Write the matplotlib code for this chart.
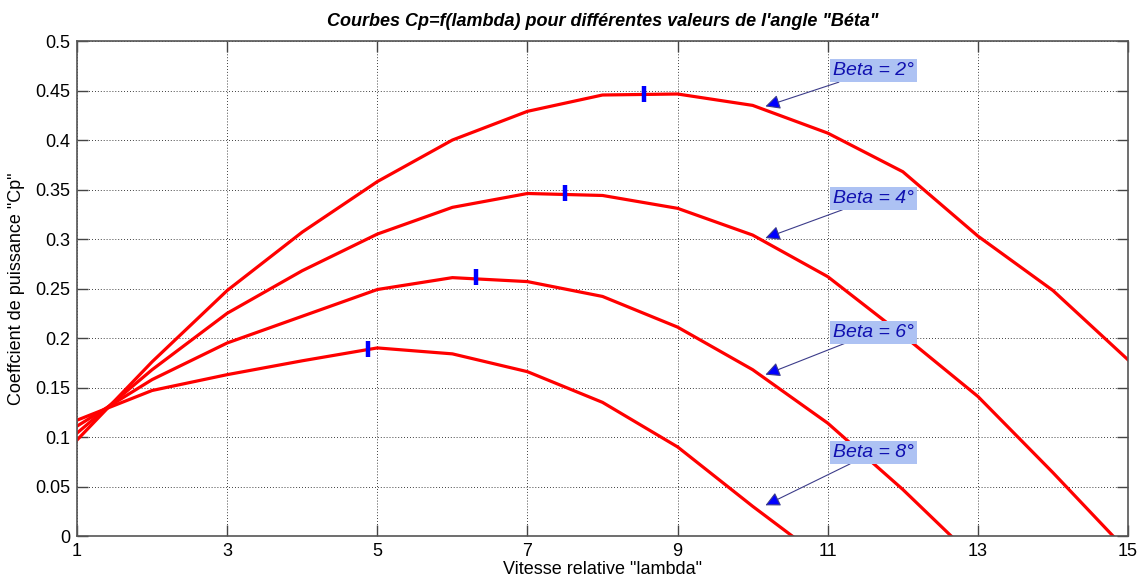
"""
Courbes Cp = f(lambda) pour plusieurs angles de calage Beta.
Valeurs relevées sur la figure d'origine (pas de 1 en lambda).
"""

import matplotlib
matplotlib.use("Agg")
import matplotlib.pyplot as plt

plt.rcParams["font.family"] = ["Liberation Sans", "DejaVu Sans"]

# --- données ---------------------------------------------------------------
lambda_b2 = [1, 2, 3, 4, 5, 6, 7, 8, 9, 10, 11, 12, 13, 14, 15]
cp_b2 = [0.097, 0.176, 0.248, 0.307, 0.358, 0.400, 0.429, 0.4455, 0.4465,
         0.435, 0.407, 0.368, 0.303, 0.248, 0.178]

lambda_b4 = [1, 2, 3, 4, 5, 6, 7, 8, 9, 10, 11, 12, 13, 14, 15]
cp_b4 = [0.104, 0.168, 0.225, 0.268, 0.305, 0.332, 0.346, 0.344, 0.331,
         0.304, 0.262, 0.203, 0.141, 0.064, -0.016]

lambda_b6 = [1, 2, 3, 4, 5, 6, 7, 8, 9, 10, 11, 12, 13]
cp_b6 = [0.111, 0.158, 0.195, 0.222, 0.249, 0.261, 0.257, 0.242, 0.211,
         0.168, 0.114, 0.047, -0.026]

lambda_b8 = [1, 2, 3, 4, 5, 6, 7, 8, 9, 10, 11]
cp_b8 = [0.117, 0.147, 0.163, 0.177, 0.190, 0.184, 0.166, 0.135, 0.090,
         0.030, -0.027]

# maxima repérés par un trait bleu
lambda_max = [8.55, 7.5, 6.31, 4.88]
cp_max = [0.4465, 0.346, 0.262, 0.189]

etiquettes = ["Beta = 2°", "Beta = 4°", "Beta = 6°", "Beta = 8°"]

# --- figure ------------------------------------------------------------------
fig = plt.figure(figsize=(11.43, 5.83), dpi=100)
ax = fig.add_axes([0.0674, 0.0806, 0.9195, 0.849])

for lam, cp in [(lambda_b2, cp_b2), (lambda_b4, cp_b4),
                (lambda_b6, cp_b6), (lambda_b8, cp_b8)]:
    ax.plot(lam, cp, color="red", lw=2.3, solid_joinstyle="round")

ax.plot(lambda_max, cp_max, "|", color="blue", ms=11, mew=3.2)

# étiquettes avec flèches
pos_texte = [(11.07, 0.470), (11.07, 0.341), (11.07, 0.206), (11.07, 0.0844)]
pos_fleche = [(10.17, 0.434), (10.17, 0.301), (10.17, 0.163), (10.17, 0.031)]
for txt, xyt, xy in zip(etiquettes, pos_texte, pos_fleche):
    ax.annotate(txt, xy=xy, xytext=xyt, ha="left", va="center",
                fontsize=14, style="italic", color="#1010b0",
                bbox=dict(boxstyle="square,pad=0.15", fc="#adc2f3", ec="none"),
                arrowprops=dict(arrowstyle="-|>", ec="#3c3c8a", fc="blue",
                                lw=0.8, mutation_scale=22, shrinkA=0,
                                shrinkB=0))

ax.set_xlim(1, 15)
ax.set_ylim(0, 0.5)
ax.set_xticks(range(1, 16, 2))
ax.set_yticks([i * 0.05 for i in range(11)])
ax.set_yticklabels(["0", "0.05", "0.1", "0.15", "0.2", "0.25", "0.3",
                    "0.35", "0.4", "0.45", "0.5"])

ax.grid(True, linestyle=(0, (1, 2.5)), color="black", lw=0.6)
ax.tick_params(direction="in", length=8, width=1, top=True, right=True,
               labelsize=13, pad=5, color="#444444")
for sp in ax.spines.values():
    sp.set_color("#555555")
    sp.set_linewidth(1.2)

ax.set_xlabel('Vitesse relative "lambda"', fontsize=13, labelpad=1)
ax.set_ylabel('Coeffcient de puissance "Cp"', fontsize=13, labelpad=7)
ax.set_title("Courbes Cp=f(lambda) pour différentes valeurs de l'angle \"Béta\"",
             fontsize=13, fontweight="bold", style="italic", pad=11)

fig.savefig("out.png", dpi=100)
